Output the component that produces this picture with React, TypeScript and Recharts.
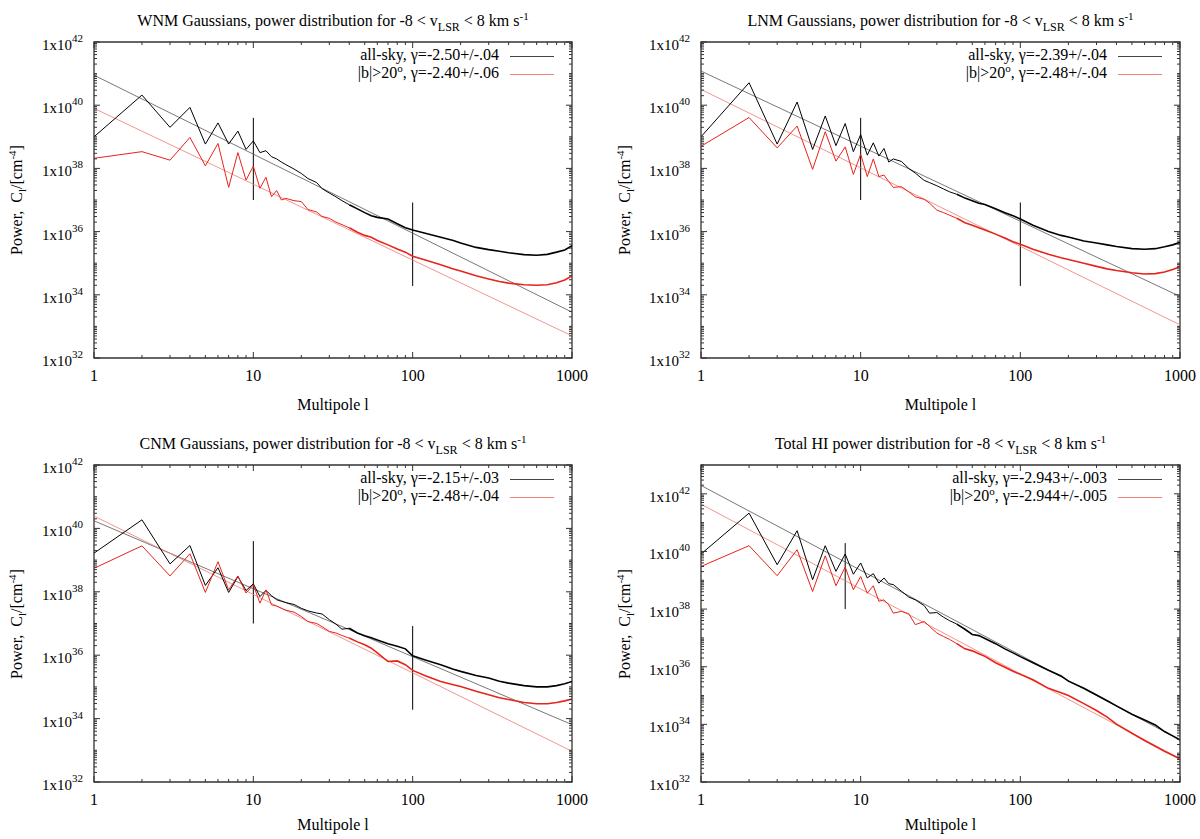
import React from 'react';
import { LineChart, Line, XAxis, YAxis, ReferenceLine, ReferenceArea } from 'recharts';

const MULTIPOLES = [
  1, 2, 3, 4, 5, 6, 7, 8, 9, 10, 11, 12, 13, 14, 15, 16, 18, 20, 22, 25, 27, 30, 33, 36, 40, 45,
  50, 55, 60, 70, 80, 90, 100, 120, 150, 180, 200, 250, 300, 350, 400, 500, 600, 700, 800, 900, 1000,
];

// log10 of the power C_l, one value per multipole
const WNM_ALL = [
  39.0, 40.32, 39.3, 39.93, 38.77, 39.44, 38.77, 39.18, 38.6, 38.87, 38.5, 38.56, 38.37, 38.3, 38.2, 38.12,
  37.98, 37.84, 37.68, 37.55, 37.36, 37.22, 37.1, 36.98, 36.85, 36.72, 36.6, 36.5, 36.45, 36.4, 36.25, 36.12,
  36.05, 35.95, 35.82, 35.72, 35.64, 35.5, 35.43, 35.38, 35.33, 35.27, 35.25, 35.28, 35.35, 35.42, 35.55,
];
const WNM_HIGH = [
  38.32, 38.53, 38.26, 38.98, 38.08, 38.79, 37.4, 38.5, 37.63, 38.07, 37.37, 37.72, 37.1, 37.3, 37.0, 37.05,
  36.98, 36.95, 36.7, 36.62, 36.48, 36.42, 36.3, 36.22, 36.12, 35.98, 35.88, 35.82, 35.72, 35.58, 35.45, 35.35,
  35.22, 35.1, 34.95, 34.82, 34.75, 34.6, 34.5, 34.42, 34.37, 34.32, 34.3, 34.32, 34.38, 34.47, 34.6,
];
const LNM_ALL = [
  39.0, 40.71, 38.77, 40.1, 38.6, 39.66, 38.72, 39.42, 38.53, 39.07, 38.42, 38.81, 38.39, 38.63, 38.2, 38.3,
  38.22, 38.0, 37.85, 37.62, 37.55, 37.45, 37.35, 37.26, 37.18, 37.06, 36.98, 36.9, 36.86, 36.72, 36.6, 36.5,
  36.4, 36.2, 36.0, 35.88, 35.83, 35.7, 35.64, 35.58, 35.53, 35.46, 35.44, 35.46, 35.52, 35.58, 35.66,
];
const LNM_HIGH = [
  38.7, 39.61, 38.65, 39.34, 37.97, 39.16, 38.23, 38.68, 37.81, 38.45, 37.74, 38.3, 37.74, 37.79, 37.58, 37.4,
  37.42, 37.26, 37.1, 37.02, 36.9, 36.68, 36.6, 36.52, 36.42, 36.28, 36.2, 36.12, 36.05, 35.92, 35.8, 35.68,
  35.6, 35.44, 35.28, 35.17, 35.12, 35.0, 34.9, 34.82, 34.77, 34.7, 34.66, 34.67, 34.72, 34.8, 34.89,
];
const CNM_ALL = [
  39.22, 40.27, 38.88, 39.46, 38.2, 38.76, 37.98, 38.48, 38.04, 38.25, 37.85, 38.04, 37.88, 37.75, 37.7, 37.66,
  37.6, 37.48, 37.4, 37.33, 37.3, 37.12, 36.98, 36.82, 36.85, 36.7, 36.61, 36.55, 36.48, 36.36, 36.28, 36.2,
  35.98, 35.85, 35.7, 35.56, 35.49, 35.36, 35.28, 35.18, 35.12, 35.04, 35.0, 35.0, 35.04, 35.1, 35.17,
];
const CNM_HIGH = [
  38.74, 39.45, 38.5, 39.2, 37.98, 38.95, 38.06, 38.5, 37.96, 38.22, 37.64, 38.06, 37.59, 37.55, 37.48, 37.42,
  37.36, 37.22, 37.06, 37.0, 36.9, 36.75, 36.7, 36.62, 36.54, 36.42, 36.33, 36.22, 36.07, 35.8, 35.82, 35.7,
  35.52, 35.35, 35.17, 35.07, 35.01, 34.86, 34.75, 34.66, 34.6, 34.51, 34.47, 34.47, 34.51, 34.56, 34.62,
];
const TOTAL_ALL = [
  39.91, 41.33, 39.54, 40.72, 39.02, 40.2, 39.31, 39.91, 39.21, 39.6, 39.08, 39.23, 38.9, 39.08, 38.88, 38.85,
  38.62, 38.42, 38.32, 38.12, 37.86, 37.88, 37.72, 37.6, 37.48, 37.3, 37.12, 37.08, 36.98, 36.8, 36.62, 36.48,
  36.35, 36.14, 35.88, 35.68, 35.5, 35.25, 35.02, 34.82, 34.64, 34.35, 34.15, 33.98, 33.75, 33.6, 33.46,
];
const TOTAL_HIGH = [
  39.48, 40.2, 39.16, 40.06, 38.61, 39.85, 38.81, 39.46, 38.67, 39.13, 38.55, 38.81, 38.27, 38.32, 38.15, 37.86,
  37.92, 37.84, 37.46, 37.57, 37.4, 37.17, 37.05, 36.95, 36.8, 36.62, 36.55, 36.45, 36.36, 36.14, 35.98, 35.84,
  35.74, 35.55, 35.25, 35.1, 35.0, 34.72, 34.48, 34.25, 34.01, 33.69, 33.44, 33.24, 33.07, 32.93, 32.8,
];

// power-law fits: log10 C_l at l = 1 and l = 1000
const FIT_ENDS = [1, 1000];
const WNM_FIT_ALL = [40.95, 33.45];
const WNM_FIT_HIGH = [39.9, 32.7];
const LNM_FIT_ALL = [41.08, 33.95];
const LNM_FIT_HIGH = [40.5, 33.05];
const CNM_FIT_ALL = [40.24, 33.81];
const CNM_FIT_HIGH = [40.39, 32.97];
const TOTAL_FIT_ALL = [42.29, 33.46];
const TOTAL_FIT_HIGH = [41.64, 32.81];

// vertical markers: [l, log10 top, log10 bottom]
const GAUSS_MARKS = [
  [10, 39.6, 37.0],
  [100, 36.92, 34.28],
];
const TOTAL_MARKS = [[8, 40.29, 38.0]];

const LEGEND_WNM = ['-2.50+/-.04', '-2.40+/-.06'];
const LEGEND_LNM = ['-2.39+/-.04', '-2.48+/-.04'];
const LEGEND_CNM = ['-2.15+/-.03', '-2.48+/-.04'];
const LEGEND_TOTAL = ['-2.943+/-.003', '-2.944+/-.005'];

const FONT = '"Liberation Serif", "DejaVu Serif", serif';
const RED = '#e8231b';
// above this multipole the measured spectra turn into a dense noisy band
const NOISY_FROM = 40;

const toSeries = (ls: number[], exps: number[]) => ls.map((l, i) => ({ l, p: 10 ** exps[i] }));

const X_TICKS: number[] = [];
for (let d = 1; d < 1000; d *= 10) for (let k = 1; k < 10; k++) X_TICKS.push(k * d);
X_TICKS.push(1000);

function yTicks(top: number) {
  const t: number[] = [];
  for (let e = 32; e < top; e++) for (let k = 1; k < 10; k++) t.push(k * 10 ** e);
  t.push(10 ** top);
  return t;
}

const isDecade = (v: number) => {
  const e = Math.log10(v);
  return Math.abs(e - Math.round(e)) < 1e-9;
};

interface PanelProps {
  left: number;
  top: number;
  box: { l: number; r: number; t: number; b: number };
  yTop: number;
  titlePrefix: string;
  legend: string[];
  all: number[];
  high: number[];
  fitAll: number[];
  fitHigh: number[];
  marks: number[][];
  yTitleX: number;
}

function Panel(props: PanelProps) {
  const { left, top, box, yTop, titlePrefix, legend, marks } = props;
  const W = 600;
  const H = 420;
  const cx = (box.l + box.r) / 2;
  const cy = (box.t + box.b) / 2;

  const all = toSeries(MULTIPOLES, props.all);
  const high = toSeries(MULTIPOLES, props.high);
  const spectra = [
    { data: all, color: '#000' },
    { data: high, color: RED },
  ];

  const xTick = (tp: any) => {
    const { x, y, payload } = tp;
    const major = isDecade(payload.value);
    const len = major ? 6 : 3;
    return (
      <g>
        <line x1={x} y1={y} x2={x} y2={y - len} stroke="#333" />
        <line x1={x} y1={box.t} x2={x} y2={box.t + len} stroke="#333" />
        {major && (
          <text x={x} y={y + 23} textAnchor="middle" fontFamily={FONT} fontSize={16} fill="#000">
            {payload.value}
          </text>
        )}
      </g>
    );
  };

  const yTick = (tp: any) => {
    const { x, y, payload } = tp;
    const e = Math.round(Math.log10(payload.value));
    const decade = isDecade(payload.value);
    const major = decade && e % 2 === 0;
    const len = major ? 6 : 3;
    return (
      <g>
        <line x1={x} y1={y} x2={x + len} y2={y} stroke="#333" />
        <line x1={box.r} y1={y} x2={box.r - len} y2={y} stroke="#333" />
        {major && e <= 42 && (
          <text x={x - 11} y={y + 8} textAnchor="end" fontFamily={FONT} fontSize={15} fill="#000">
            1x10
            <tspan dy={-8} fontSize={11}>
              {e}
            </tspan>
          </text>
        )}
      </g>
    );
  };

  return (
    <div style={{ position: 'absolute', left, top, width: W, height: H, fontFamily: FONT, color: '#000' }}>
      <div
        style={{
          position: 'absolute',
          left: cx,
          top: box.t - 35,
          transform: 'translateX(-50%)',
          whiteSpace: 'nowrap',
          fontSize: 16,
          lineHeight: '18px',
        }}
      >
        {titlePrefix}power distribution for -8 &lt; v<sub style={{ fontSize: 12 }}>LSR</sub> &lt; 8 km s
        <sup style={{ fontSize: 11 }}>-1</sup>
      </div>

      <LineChart
        width={W}
        height={H}
        margin={{ top: box.t, right: W - box.r, bottom: H - box.b - 30, left: 0 }}
      >
        <XAxis
          dataKey="l"
          type="number"
          scale="log"
          domain={[1, 1000]}
          allowDataOverflow
          ticks={X_TICKS}
          interval={0}
          tickSize={0}
          tickMargin={0}
          tickLine={false}
          axisLine={false}
          height={30}
          tick={xTick}
        />
        <YAxis
          type="number"
          scale="log"
          domain={[1e32, 10 ** yTop]}
          allowDataOverflow
          ticks={yTicks(yTop)}
          interval={0}
          tickSize={0}
          tickMargin={0}
          tickLine={false}
          axisLine={false}
          width={box.l}
          tick={yTick}
        />
        <ReferenceArea
          x1={1}
          x2={1000}
          y1={1e32}
          y2={10 ** yTop}
          fill="none"
          stroke="#333"
          strokeWidth={1.3}
          ifOverflow="visible"
        />
        {marks.map((m, i) => (
          <ReferenceLine
            key={i}
            segment={[
              { x: m[0], y: 10 ** m[1] },
              { x: m[0], y: 10 ** m[2] },
            ]}
            stroke="#000"
            strokeWidth={1}
          />
        ))}
        <Line
          data={toSeries(FIT_ENDS, props.fitAll)}
          dataKey="p"
          stroke="#555"
          strokeWidth={0.8}
          dot={false}
          isAnimationActive={false}
        />
        <Line
          data={toSeries(FIT_ENDS, props.fitHigh)}
          dataKey="p"
          stroke="#f07a72"
          strokeWidth={0.8}
          dot={false}
          isAnimationActive={false}
        />
        {spectra.map((s, i) => (
          <Line
            key={`lo${i}`}
            data={s.data.filter((d) => d.l <= NOISY_FROM)}
            dataKey="p"
            stroke={s.color}
            strokeWidth={1}
            dot={false}
            isAnimationActive={false}
          />
        ))}
        {spectra.map((s, i) => (
          <Line
            key={`hi${i}`}
            data={s.data.filter((d) => d.l >= NOISY_FROM)}
            dataKey="p"
            stroke={s.color}
            strokeWidth={1.6}
            dot={false}
            isAnimationActive={false}
          />
        ))}
      </LineChart>

      {/* legend */}
      {[0, 1].map((i) => (
        <React.Fragment key={i}>
          <div
            style={{
              position: 'absolute',
              right: W - (box.r - 73),
              top: box.t + 14 + i * 18 - 10,
              whiteSpace: 'nowrap',
              fontSize: 16,
              lineHeight: '18px',
            }}
          >
            {i === 0 ? (
              <>all-sky, γ={legend[0]}</>
            ) : (
              <>
                |b|&gt;20<sup style={{ fontSize: 11, lineHeight: 0 }}>o</sup>, γ={legend[1]}
              </>
            )}
          </div>
          <div
            style={{
              position: 'absolute',
              left: box.r - 62,
              top: box.t + 14 + i * 18,
              width: 44,
              height: 0,
              borderTop: `1.5px solid ${i === 0 ? '#444' : '#f08078'}`,
            }}
          />
        </React.Fragment>
      ))}

      <div
        style={{
          position: 'absolute',
          left: cx,
          top: 396,
          transform: 'translateX(-50%)',
          whiteSpace: 'nowrap',
          fontSize: 16,
          lineHeight: '18px',
        }}
      >
        Multipole l
      </div>
      <div
        style={{
          position: 'absolute',
          left: props.yTitleX,
          top: cy,
          transform: 'translate(-50%, -50%) rotate(-90deg)',
          whiteSpace: 'nowrap',
          fontSize: 16,
          lineHeight: '18px',
        }}
      >
        Power,&nbsp; C<sub style={{ fontSize: 11 }}>l</sub>/[cm<sup style={{ fontSize: 11 }}>-4</sup>]
      </div>
    </div>
  );
}

export default function App() {
  return (
    <div style={{ position: 'absolute', left: 0, top: 0, width: 1200, height: 839, background: '#fff' }}>
      <Panel
        left={0}
        top={0}
        box={{ l: 94, r: 572, t: 42, b: 358 }}
        yTop={42}
        titlePrefix="WNM Gaussians, "
        legend={LEGEND_WNM}
        all={WNM_ALL}
        high={WNM_HIGH}
        fitAll={WNM_FIT_ALL}
        fitHigh={WNM_FIT_HIGH}
        marks={GAUSS_MARKS}
        yTitleX={17}
      />
      <Panel
        left={600}
        top={0}
        box={{ l: 101, r: 580, t: 42, b: 358 }}
        yTop={42}
        titlePrefix="LNM Gaussians, "
        legend={LEGEND_LNM}
        all={LNM_ALL}
        high={LNM_HIGH}
        fitAll={LNM_FIT_ALL}
        fitHigh={LNM_FIT_HIGH}
        marks={GAUSS_MARKS}
        yTitleX={25}
      />
      <Panel
        left={0}
        top={420}
        box={{ l: 94, r: 572, t: 45, b: 362 }}
        yTop={42}
        titlePrefix="CNM Gaussians, "
        legend={LEGEND_CNM}
        all={CNM_ALL}
        high={CNM_HIGH}
        fitAll={CNM_FIT_ALL}
        fitHigh={CNM_FIT_HIGH}
        marks={GAUSS_MARKS}
        yTitleX={17}
      />
      <Panel
        left={600}
        top={420}
        box={{ l: 101, r: 580, t: 45, b: 362 }}
        yTop={43}
        titlePrefix="Total HI "
        legend={LEGEND_TOTAL}
        all={TOTAL_ALL}
        high={TOTAL_HIGH}
        fitAll={TOTAL_FIT_ALL}
        fitHigh={TOTAL_FIT_HIGH}
        marks={TOTAL_MARKS}
        yTitleX={25}
      />
    </div>
  );
}
